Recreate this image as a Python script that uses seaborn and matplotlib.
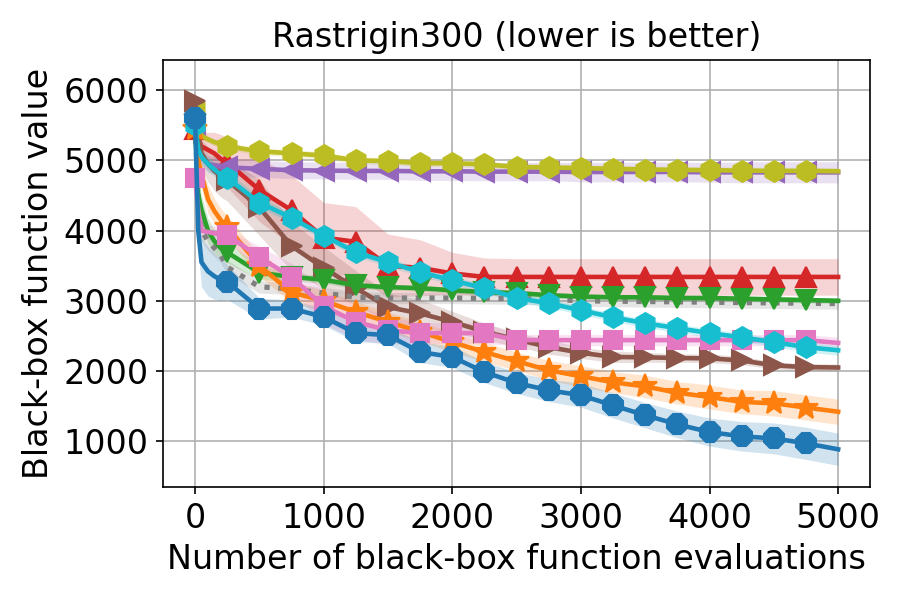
import numpy as np
import pandas as pd
import matplotlib
matplotlib.use("Agg")
import matplotlib.pyplot as plt
import seaborn as sns

# evaluation grid
evals = [0, 25, 50, 100, 150, 200] + list(range(250, 5001, 250))

# mean best-so-far values per method
blue = [5600, 4000, 3550, 3420, 3350, 3300, 3270, 2890, 2890, 2770, 2540, 2510, 2270, 2200, 1985,
        1830, 1725, 1655, 1510, 1370, 1240, 1130, 1070, 1040, 970, 885]
orange = [5450, 5000, 4800, 4450, 4280, 4150, 4050, 3500, 3120, 3000, 2840, 2700, 2560, 2410, 2270,
          2140, 2010, 1925, 1840, 1780, 1690, 1630, 1560, 1540, 1480, 1420]
green = [5500, 4500, 4300, 4000, 3850, 3750, 3690, 3400, 3340, 3300, 3220, 3195, 3180, 3150, 3125,
         3110, 3080, 3060, 3050, 3050, 3040, 3040, 3030, 3020, 3010, 3000]
red = [5450, 5300, 5200, 5150, 5100, 5020, 4970, 4580, 4290, 3900, 3840, 3500, 3470, 3390, 3340,
       3340, 3340, 3340, 3340, 3340, 3340, 3340, 3340, 3340, 3340, 3340]
purple = [5500, 5200, 5050, 4950, 4930, 4920, 4900, 4880, 4860, 4855, 4850, 4850, 4845, 4845, 4840,
          4840, 4840, 4835, 4835, 4835, 4835, 4830, 4830, 4830, 4830, 4830]
brown = [5850, 5400, 5100, 4950, 4850, 4780, 4720, 4330, 3780, 3470, 3180, 2910, 2820, 2700, 2560,
         2450, 2340, 2260, 2200, 2195, 2185, 2180, 2150, 2080, 2055, 2050]
pink = [4750, 4300, 4000, 3980, 3960, 3950, 3940, 3620, 3340, 2920, 2700, 2580, 2540, 2540, 2540,
        2440, 2440, 2440, 2440, 2440, 2440, 2440, 2440, 2440, 2440, 2400]
gray = [5500, 4500, 4000, 3850, 3750, 3650, 3480, 3200, 3170, 3110, 3050, 3040, 3040, 3040, 3035,
        3030, 3020, 3000, 2995, 2990, 2985, 2980, 2975, 2970, 2965, 2960]
olive = [5750, 5500, 5350, 5300, 5260, 5230, 5200, 5130, 5100, 5070, 5000, 4990, 4960, 4960, 4945,
         4905, 4900, 4890, 4880, 4870, 4865, 4860, 4855, 4850, 4850, 4845]
cyan = [5500, 5150, 5050, 4950, 4870, 4800, 4750, 4400, 4180, 3930, 3690, 3550, 3410, 3290, 3180,
        3040, 2965, 2865, 2765, 2680, 2610, 2540, 2480, 2410, 2340, 2295]

# half-widths of the shaded uncertainty bands
blue_err = [0, 300, 350, 350, 330, 300, 250, 150, 120, 120, 120, 120, 150, 150, 150, 150, 160, 170,
            180, 180, 190, 200, 210, 220, 230, 230]
orange_err = [0, 150, 200, 200, 180, 170, 160, 150, 150, 150, 150, 140, 140, 140, 140, 130, 140, 150,
              150, 160, 160, 170, 170, 180, 180, 180]
green_err = [0, 200, 200, 180, 160, 150, 150, 100, 60, 50, 50, 40, 40, 40, 40, 40, 40, 40, 40, 40,
             40, 40, 40, 40, 40, 40]
red_err = [0, 150, 200, 250, 300, 350, 350, 450, 500, 500, 500, 450, 400, 300, 270, 260, 260, 260,
           260, 260, 260, 260, 260, 260, 260, 260]
purple_err = [0, 100, 120, 120, 120, 120, 120, 120, 120, 120, 120, 120, 130, 130, 130, 130, 130, 140,
              140, 140, 140, 140, 150, 150, 150, 150]
brown_err = [0, 150, 200, 250, 280, 300, 300, 400, 350, 300, 250, 200, 200, 150, 120, 100, 100, 80,
             80, 70, 60, 60, 60, 50, 50, 50]
pink_err = [0, 100, 100, 100, 100, 100, 100, 150, 200, 250, 250, 200, 150, 150, 150, 80, 80, 80, 80,
            80, 80, 80, 80, 80, 80, 80]
gray_err = [0, 150, 150, 130, 120, 110, 100, 90, 80, 80, 80, 80, 80, 80, 80, 80, 80, 80, 80, 80, 80,
            80, 80, 80, 80, 80]
olive_err = [0, 60, 60, 50, 50, 50, 50, 50, 50, 50, 50, 50, 50, 50, 50, 50, 50, 50, 50, 50, 50, 50,
             50, 50, 50, 50]
cyan_err = [0, 100, 100, 100, 100, 100, 90, 80, 70, 60, 60, 60, 60, 60, 60, 60, 60, 60, 60, 60, 60,
            60, 60, 60, 70, 70]

pal = sns.color_palette("tab10")
# (values, err, color, marker, markersize, linestyle) in drawing order
series = [
    (red, red_err, pal[3], "^", 10, "-"),
    (purple, purple_err, pal[4], "<", 10, "-"),
    (olive, olive_err, pal[8], "h", 10, "-"),
    (brown, brown_err, pal[5], ">", 10, "-"),
    (gray, gray_err, pal[7], None, 0, ":"),
    (green, green_err, pal[2], "v", 10, "-"),
    (orange, orange_err, pal[1], "*", 12, "-"),
    (pink, pink_err, pal[6], "s", 9, "-"),
    (cyan, cyan_err, pal[9], "h", 10, "-"),
    (blue, blue_err, pal[0], "8", 10, "-"),
]

plt.rcParams["font.family"] = ["DejaVu Sans"]
fig, ax = plt.subplots(figsize=(6, 4), dpi=150)

x = np.array(evals)
mark_idx = [i for i, e in enumerate(evals) if e % 250 == 0 and e < 5000]

for vals, err, col, mk, ms, ls in series:
    v = np.array(vals, dtype=float)
    e = np.array(err, dtype=float)
    ax.fill_between(x, v - e, v + e, color=col, alpha=0.2, linewidth=0)
    df = pd.DataFrame({"x": x, "y": v})
    kw = dict(marker=mk, markersize=ms, markevery=mark_idx,
              markeredgecolor=col, markerfacecolor=col, markeredgewidth=1) if mk else {}
    sns.lineplot(data=df, x="x", y="y", ax=ax, color=col, linestyle=ls,
                 linewidth=2.2 if ls == "-" else 2.5, legend=False, **kw)

ax.set_xlim(-250, 5250)
ax.set_ylim(345, 6430)
ax.set_xticks([0, 1000, 2000, 3000, 4000, 5000])
ax.set_yticks([1000, 2000, 3000, 4000, 5000, 6000])
ax.tick_params(labelsize=16)
ax.grid(True)
ax.set_axisbelow(True)
ax.set_xlabel("Number of black-box function evaluations", fontsize=16)
ax.set_ylabel("Black-box function value", fontsize=16)
ax.set_title("Rastrigin300 (lower is better)", fontsize=16)
fig.subplots_adjust(left=0.181, right=0.967, top=0.9, bottom=0.188)
fig.savefig("out.png", dpi=150)
